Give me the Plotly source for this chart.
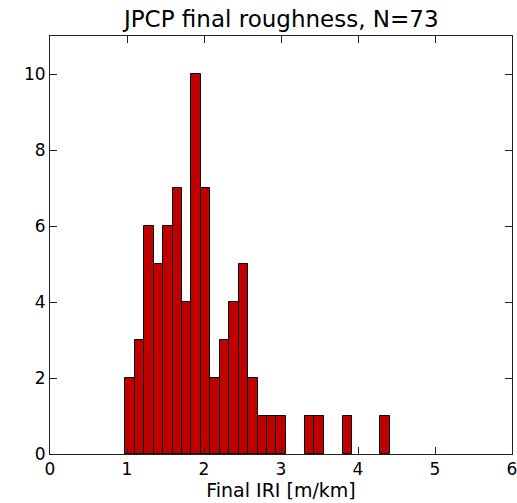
import plotly.graph_objects as go

# Histogram of final IRI (m/km), 28 equal-width bins
iri_min = 0.978
iri_max = 4.414
counts = [2, 3, 6, 5, 6, 7, 4, 10, 7, 2, 3, 4, 5, 2, 1, 1, 1,
          0, 0, 1, 1, 0, 0, 1, 0, 0, 0, 1]
x_ticks = [0, 1, 2, 3, 4, 5, 6]
y_ticks = [0, 2, 4, 6, 8, 10]
title_text = "JPCP final roughness, N=73"
x_label = "Final IRI [m/km]"

n_bins = len(counts)
bw = (iri_max - iri_min) / n_bins
centers = [iri_min + bw * (i + 0.5) for i in range(n_bins)]
heights = [c if c > 0 else None for c in counts]

fig = go.Figure(go.Bar(
    x=centers, y=heights, width=bw,
    marker=dict(color="#C00000", line=dict(color="black", width=1)),
))

font = "DejaVu Sans, sans-serif"
axis_common = dict(
    showgrid=False, zeroline=False, showline=True, linecolor="#222222",
    linewidth=1, mirror="allticks", ticks="inside", ticklen=7,
    tickcolor="#222222", tickwidth=1, ticklabeloverflow="allow",
    automargin=False,
    tickfont=dict(family=font, size=17, color="black"),
)
fig.update_layout(
    width=517, height=503,
    margin=dict(l=50, r=5, t=36, b=49, autoexpand=False),
    paper_bgcolor="white", plot_bgcolor="white",
    showlegend=False,
    title=dict(text=title_text, x=0.544, xanchor="center", y=0.962,
               yanchor="middle", yref="container",
               font=dict(family=font, size=23, color="black")),
    xaxis=dict(range=[0, 6], tickvals=x_ticks, **axis_common,
               title=dict(text=x_label, standoff=4,
                          font=dict(family=font, size=19, color="black"))),
    yaxis=dict(range=[0, 11], tickvals=y_ticks, **axis_common),
    bargap=0,
)
fig.write_html("out.html")
